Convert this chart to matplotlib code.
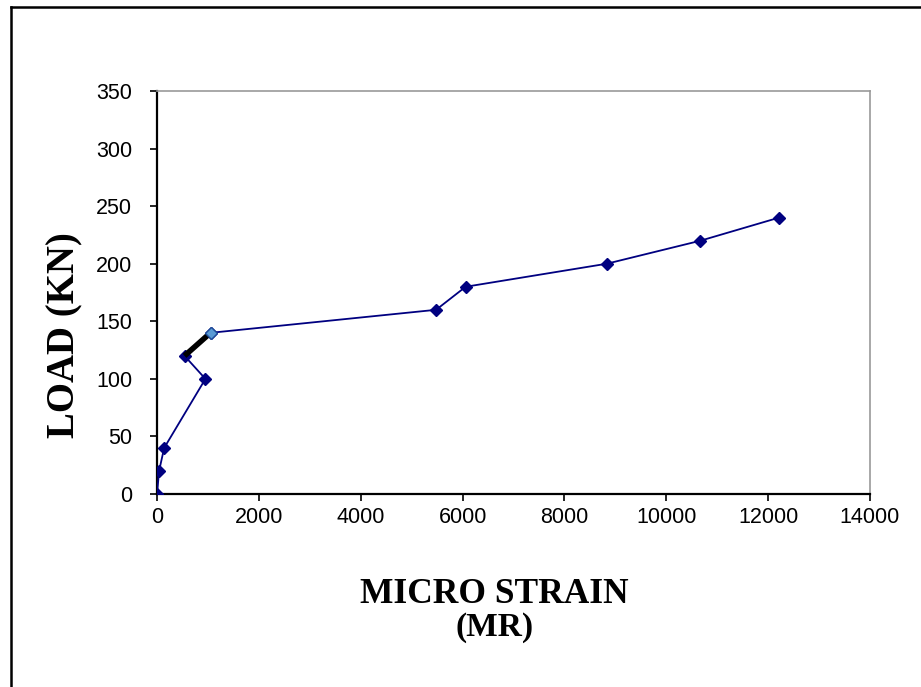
import matplotlib.pyplot as plt
from matplotlib.lines import Line2D

# strain readings (micro strain) and load (kN)
strain = [0, 40, 140, 950, 540, 1050, 5480, 6060, 8830, 10670, 12210]
load = [0, 20, 40, 100, 120, 140, 160, 180, 200, 220, 240]

# segment drawn thick black in the original
seg_strain = [540, 1050]
seg_load = [120, 140]

xticks = [0, 2000, 4000, 6000, 8000, 10000, 12000, 14000]
yticks = [0, 50, 100, 150, 200, 250, 300, 350]

navy = "#000080"

fig = plt.figure(figsize=(9.21, 6.87), dpi=100)
ax = fig.add_axes([0.1705, 0.2809, 0.7741, 0.5866])

ax.plot(strain, load, color=navy, lw=1.3, marker="D", ms=6.5,
        mfc=navy, mec=navy, zorder=3)
ax.plot(seg_strain, seg_load, color="black", lw=4, solid_capstyle="butt",
        zorder=4)
# highlighted last point of that segment
ax.plot(seg_strain[-1:], seg_load[-1:], marker="D", ms=6.5, mfc="#5b9bd5",
        mec="#1f4e9a", mew=1, ls="none", zorder=5)

ax.set_xlim(0, 14000)
ax.set_ylim(0, 350)
ax.set_xticks(xticks)
ax.set_yticks(yticks)
ax.tick_params(direction="out", length=5, width=1.2, labelsize=15.5,
               colors="black")
ax.tick_params(axis="y", pad=13)
ax.tick_params(axis="x", pad=4)
for lab in ax.get_xticklabels() + ax.get_yticklabels():
    lab.set_fontfamily("Liberation Sans")

ax.spines["left"].set_linewidth(1.6)
ax.spines["bottom"].set_linewidth(1.6)
ax.spines["top"].set_color("#999999")
ax.spines["right"].set_color("#999999")
ax.spines["top"].set_linewidth(1.2)
ax.spines["right"].set_linewidth(1.2)

fig.text(0.0706, 0.512, "LOAD (KN)", rotation=90, ha="center", va="center",
         fontsize=28, fontweight="bold", family="Liberation Serif")
fig.text(0.5365, 0.122, "MICRO STRAIN", ha="center", va="baseline",
         fontsize=25.5, fontweight="bold", family="Liberation Serif")
fig.text(0.5365, 0.074, "(MR)", ha="center", va="baseline",
         fontsize=24, fontweight="bold", family="Liberation Serif")

# outer frame: only left and top edges are visible
fig.add_artist(Line2D([0.0115, 0.0115], [0.0, 0.9898], transform=fig.transFigure,
                      color="black", lw=1.8))
fig.add_artist(Line2D([0.0115, 1.0], [0.9898, 0.9898], transform=fig.transFigure,
                      color="black", lw=1.8))

fig.savefig("out.png", dpi=100)
